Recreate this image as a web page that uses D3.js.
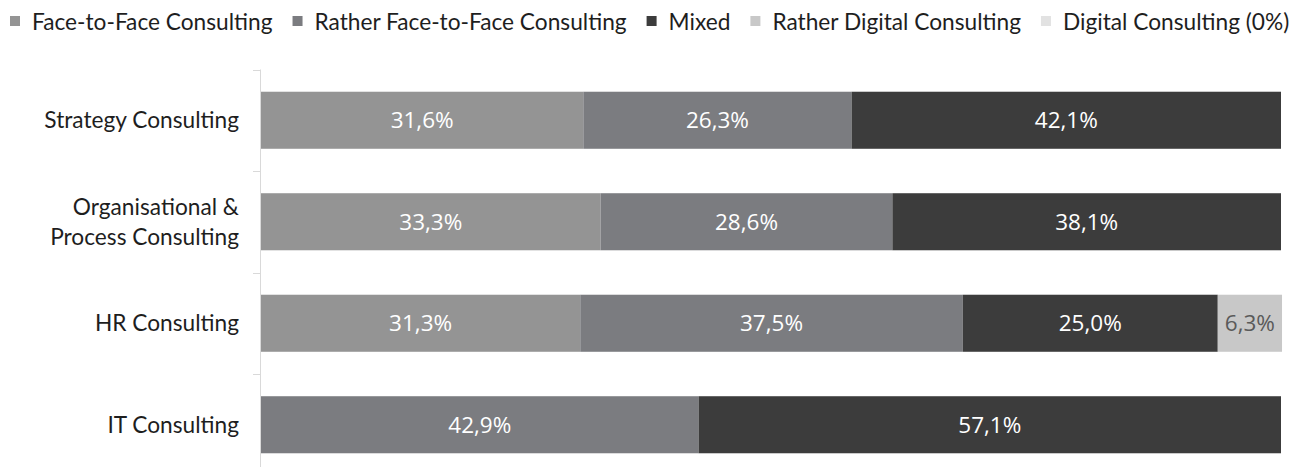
<!DOCTYPE html>
<html>
<head>
<meta charset="utf-8">
<script src="https://cdn.jsdelivr.net/npm/d3@7"></script>
<style>
  body { margin: 0; background: #fff; }
  .cat { font-family: Lato, "Open Sans", sans-serif; font-size: 22.7px; fill: #1e1e1e; }
  .leg { font-family: Lato, "Open Sans", sans-serif; font-size: 22.7px; fill: #1e1e1e; }
  .val { font-family: "Open Sans", sans-serif; font-size: 22.5px; }
</style>
</head>
<body>
<svg width="1301" height="467"></svg>
<script>
const categories = ['Strategy Consulting', 'Organisational &\nProcess Consulting', 'HR Consulting', 'IT Consulting'];
const seriesNames = ['Face-to-Face Consulting', 'Rather Face-to-Face Consulting', 'Mixed', 'Rather Digital Consulting', 'Digital Consulting (0%)'];
const faceToFace = [31.6, 33.3, 31.3, 0];
const ratherFace = [26.3, 28.6, 37.5, 42.9];
const mixed = [42.1, 38.1, 25.0, 57.1];
const ratherDigital = [0, 0, 6.3, 0];
const digital = [0, 0, 0, 0];
const colors = ['#949494', '#7b7c80', '#3c3c3c', '#c8c8c8', '#e2e2e2'];
const textColors = ['#fff', '#fff', '#fff', '#5a5a5a', '#5a5a5a'];

const svg = d3.select('svg');
const plotLeft = 261, plotRight = 1281, plotTop = 69.5, plotBottom = 475.5;

const rows = categories.map((c, i) => {
  const r = { cat: c };
  [faceToFace, ratherFace, mixed, ratherDigital, digital].forEach((s, j) => r[seriesNames[j]] = s[i]);
  return r;
});
const stacked = d3.stack().keys(seriesNames)(rows);

const xScale = d3.scaleLinear().domain([0, 100]).range([plotLeft, plotRight]);
const yScale = d3.scaleBand().domain(categories).range([plotTop, plotBottom]).paddingInner(0.438).paddingOuter(0.219);
const band = d3.scaleBand().domain(categories).range([plotTop, plotBottom]);

// axis line + ticks
svg.append('line').attr('x1', 260.5).attr('x2', 260.5).attr('y1', plotTop).attr('y2', 467)
  .attr('stroke', '#d9d9d9').attr('stroke-width', 1);
const tickYs = categories.map(c => band(c));
svg.selectAll('.tk').data(tickYs).enter().append('line')
  .attr('x1', 253).attr('x2', 260).attr('y1', d => Math.round(d) + 0.5).attr('y2', d => Math.round(d) + 0.5)
  .attr('stroke', '#d9d9d9');

// bars
const groups = svg.selectAll('.series').data(stacked).enter().append('g')
  .attr('fill', (d, i) => colors[i]);
groups.selectAll('rect').data(d => d.filter(p => p[1] - p[0] > 0)).enter().append('rect')
  .attr('x', d => xScale(d[0]))
  .attr('width', d => xScale(d[1]) - xScale(d[0]))
  .attr('y', d => yScale(d.data.cat))
  .attr('height', yScale.bandwidth());

// value labels
stacked.forEach((s, i) => {
  svg.selectAll('.v' + i).data(s.filter(p => p[1] - p[0] > 0)).enter().append('text')
    .attr('class', 'val')
    .attr('x', d => (xScale(d[0]) + xScale(d[1])) / 2)
    .attr('y', d => yScale(d.data.cat) + yScale.bandwidth() / 2 + 8)
    .attr('text-anchor', 'middle')
    .attr('fill', textColors[i])
    .text(d => (d[1] - d[0]).toFixed(1).replace('.', ',') + '%');
});

// category labels
categories.forEach(c => {
  const lines = c.split('\n');
  const cy = yScale(c) + yScale.bandwidth() / 2;
  const t = svg.append('text').attr('class', 'cat').attr('text-anchor', 'end');
  lines.forEach((l, k) => {
    t.append('tspan').attr('x', 239)
      .attr('y', cy + 8 + (k - (lines.length - 1) / 2) * 30)
      .text(l);
  });
});

// legend, laid out one after another
let lx = 10;
seriesNames.forEach((n, i) => {
  svg.append('rect').attr('x', lx).attr('y', 16).attr('width', 10).attr('height', 10)
    .attr('fill', colors[i]);
  const t = svg.append('text').attr('class', 'leg').attr('x', lx + 22).attr('y', 30).text(n);
  lx += 22 + t.node().getComputedTextLength() + 20;
});
</script>
</body>
</html>
